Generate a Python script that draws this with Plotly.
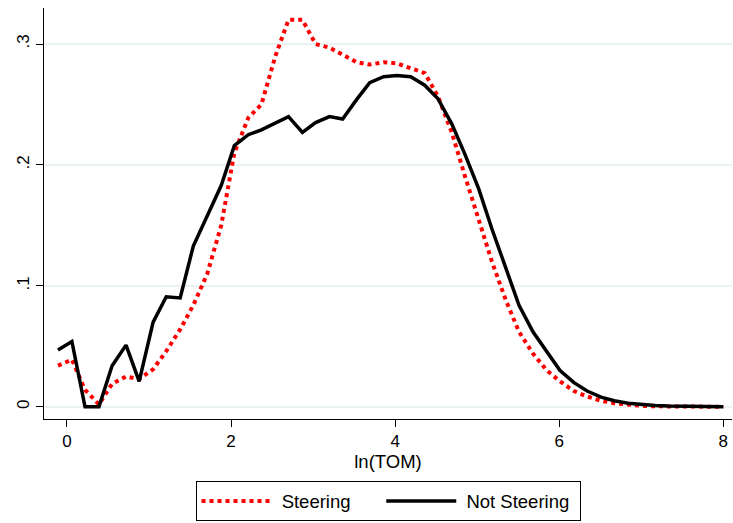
import plotly.graph_objects as go

# Kernel-density evaluation grid for ln(TOM)
x_grid = [-0.11, 0.06, 0.22, 0.39, 0.55, 0.72, 0.88, 1.05, 1.21, 1.38,
          1.54, 1.71, 1.88, 2.04, 2.21, 2.37, 2.54, 2.70, 2.87, 3.03,
          3.20, 3.36, 3.53, 3.69, 3.86, 4.02, 4.19, 4.36, 4.52, 4.69,
          4.85, 5.02, 5.18, 5.35, 5.51, 5.68, 5.85, 6.01, 6.18, 6.34,
          6.51, 6.67, 6.84, 7.00, 7.17, 7.33, 7.50, 7.67, 7.83, 8.00]

# Estimated densities
steering = [0.034, 0.039, 0.014, 0.002, 0.019, 0.025, 0.023, 0.031, 0.046, 0.064,
            0.084, 0.110, 0.150, 0.210, 0.239, 0.250, 0.290, 0.320, 0.320, 0.300,
            0.297, 0.291, 0.285, 0.283, 0.285, 0.284, 0.280, 0.276, 0.257, 0.227,
            0.191, 0.155, 0.120, 0.088, 0.062, 0.044, 0.030, 0.021, 0.013, 0.0085,
            0.005, 0.003, 0.0015, 0.0008, 0.0004, 0.0002, 0.0001, 0.0, 0.0, 0.0]

not_steering = [0.047, 0.054, 0.000, 0.000, 0.034, 0.051, 0.021, 0.070, 0.091, 0.090,
                0.133, 0.158, 0.183, 0.216, 0.225, 0.229, 0.235, 0.240, 0.227, 0.235,
                0.240, 0.238, 0.254, 0.268, 0.273, 0.274, 0.273, 0.266, 0.255, 0.234,
                0.209, 0.180, 0.147, 0.114, 0.084, 0.062, 0.045, 0.030, 0.020, 0.013,
                0.008, 0.005, 0.003, 0.0017, 0.001, 0.0006, 0.0003, 0.0002, 0.0001, 0.0]

x_ticks = [0, 2, 4, 6, 8]
y_ticks = [0, 0.1, 0.2, 0.3]
y_tick_text = ["0", ".1", ".2", ".3"]

FONT = "Liberation Sans, Arial, Helvetica, sans-serif"
NBSP = "\u00a0"

fig = go.Figure()
fig.add_trace(go.Scatter(x=x_grid, y=steering, mode="lines",
                         name=NBSP + "Steering" + NBSP * 5,
                         line=dict(color="#FF0000", width=4, dash="dot")))
fig.add_trace(go.Scatter(x=x_grid, y=not_steering, mode="lines",
                         name=NBSP + "Not Steering" + NBSP,
                         line=dict(color="#000000", width=3.5)))

fig.update_layout(
    width=733, height=523,
    margin=dict(l=44, r=1, t=8, b=102),
    paper_bgcolor="white", plot_bgcolor="white",
    font=dict(family=FONT, size=17, color="black"),
    showlegend=True,
    legend=dict(orientation="h", x=0.5, xanchor="center", y=-0.152, yanchor="top",
                bordercolor="black", borderwidth=1, font=dict(size=18.5),
                itemwidth=70, traceorder="normal"),
    xaxis=dict(range=[-0.28, 8.106], tickvals=x_ticks, showgrid=False, zeroline=False,
               showline=True, linecolor="black", linewidth=1,
               ticks="outside", ticklen=7, tickcolor="black",
               tickfont=dict(size=17),
               title=dict(text="ln(TOM)", font=dict(size=18.5), standoff=2)),
    yaxis=dict(range=[-0.0101, 0.3298], tickvals=y_ticks, ticktext=y_tick_text,
               tickangle=-90, showgrid=True, gridcolor="#EAF2F3", gridwidth=1.5,
               zeroline=False, showline=True, linecolor="black", linewidth=1,
               ticks="outside", ticklen=7, tickcolor="black",
               tickfont=dict(size=17)),
)

fig.write_html("out.html")
